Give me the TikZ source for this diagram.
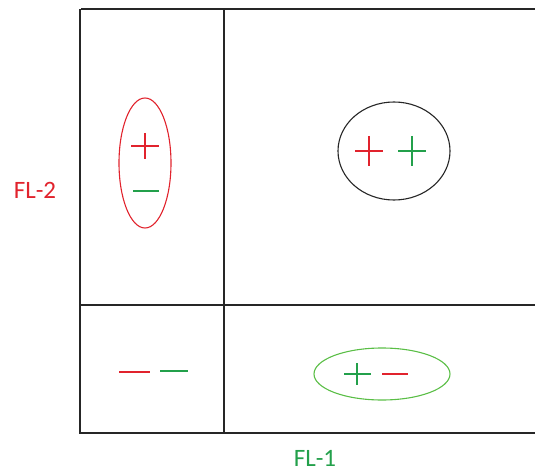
\documentclass[tikz,border=0pt]{standalone}
\usepackage{fontspec}
\setmainfont{Carlito}
\usetikzlibrary{shapes.geometric}
\definecolor{flred}{RGB}{225,35,45}
\definecolor{flgreen}{RGB}{35,160,75}
\definecolor{setgreen}{RGB}{90,190,70}

\begin{document}
\begin{tikzpicture}[x=1pt,y=-1pt,
    frame/.style={line width=1.4pt,black!85},
    sign/.style={line width=2.4pt},
    setring/.style={draw,ellipse,inner sep=0pt,line width=1.1pt},
    axislabel/.style={font=\fontsize{25}{30}\selectfont}]
    \useasboundingbox (0,0) rectangle (535,473);

    % Frame and dividers
    \draw[frame,line width=2pt] (81,9) -- (535,9);
    \draw[frame] (80,9) -- (80,433) -- (535,433);
    \draw[frame] (224,9) -- (224,433);
    \draw[frame] (80,305) -- (535,305);

    % Axis labels
    \node[axislabel,flred] (fl2) at (35,190) {FL-2};
    \node[axislabel,flgreen] (fl1) at (315,458) {FL-1};

    % Upper left: + over -
    \node[setring,flred,minimum width=52,minimum height=130] (setA) at (145,163) {};
    \draw[sign,flred] (131,146) -- (159,146) (145,133) -- (145,159);
    \draw[sign,flgreen] (133,191) -- (159,191);

    % Upper right: + +
    \node[setring,black!85,minimum width=112,minimum height=98] (setB) at (394,151) {};
    \foreach \x/\c in {369/flred,412/flgreen}
        \draw[sign,\c] (\x-14,151) -- (\x+14,151) (\x,136) -- (\x,166);

    % Lower left: - -
    \draw[sign,flred] (119,372) -- (150,372);
    \draw[sign,flgreen] (160,371) -- (188,371);

    % Lower right: + -
    \node[setring,setgreen,minimum width=136,minimum height=52] (setC) at (382,374) {};
    \draw[sign,flgreen] (344,374) -- (371,374) (357,363) -- (357,385);
    \draw[sign,flred] (382,374) -- (408,374);
\end{tikzpicture}
\end{document}
